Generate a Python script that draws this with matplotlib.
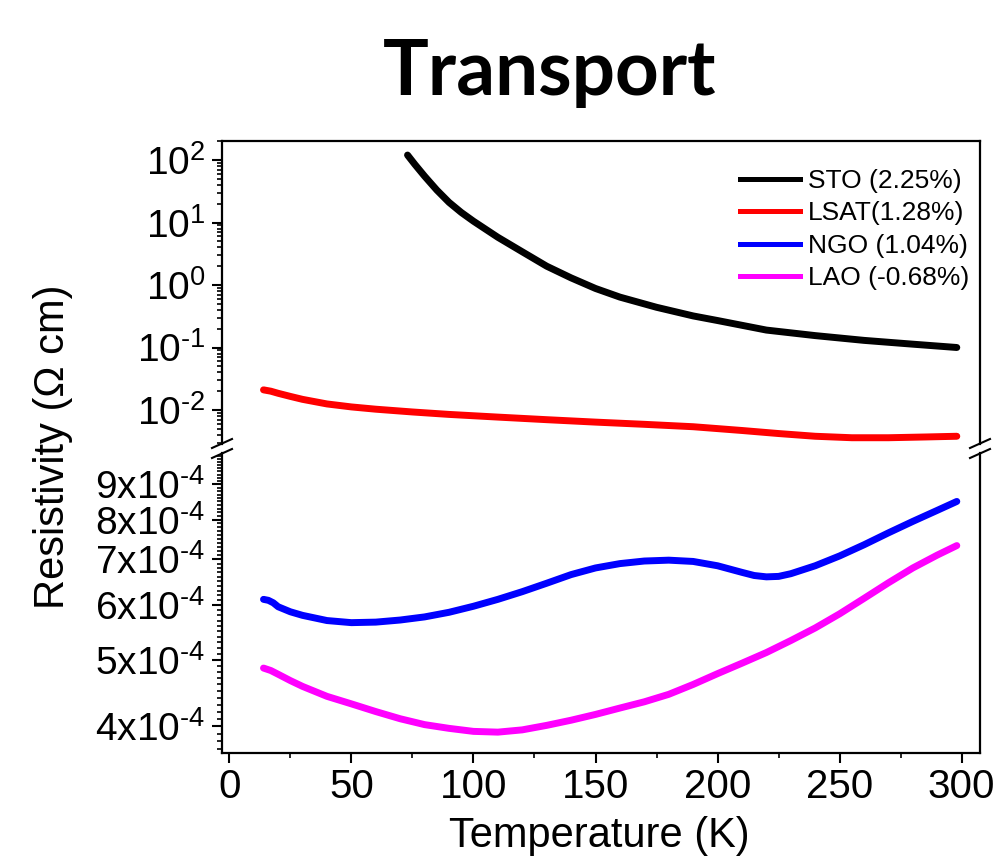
import numpy as np
import matplotlib
matplotlib.use('Agg')
import matplotlib.pyplot as plt
from matplotlib.lines import Line2D
from matplotlib.ticker import FixedLocator, FixedFormatter, LogLocator, NullFormatter, MultipleLocator

plt.rcParams['font.family'] = ['Liberation Sans', 'DejaVu Sans']
plt.rcParams['mathtext.fontset'] = 'custom'
plt.rcParams['mathtext.rm'] = 'Liberation Sans'
plt.rcParams['mathtext.it'] = 'Liberation Sans:italic'
plt.rcParams['mathtext.bf'] = 'Liberation Sans:bold'

# ---------------- data ----------------
sto_T = [73, 76, 80, 85, 90, 95, 100, 110, 120, 130, 140, 150, 160, 175, 190, 200,
         220, 240, 260, 280, 298]
sto_R = [120, 85, 55, 33, 21, 14.5, 10.5, 5.8, 3.4, 2.0, 1.3, 0.88, 0.64, 0.44, 0.32,
         0.27, 0.19, 0.155, 0.13, 0.113, 0.10]

lsat_T = [14, 17, 20, 25, 30, 40, 50, 60, 75, 90, 110, 130, 150, 170, 190, 210, 225,
          240, 255, 270, 285, 298]
lsat_R = [0.021, 0.020, 0.0185, 0.0165, 0.0148, 0.0125, 0.0112, 0.0103, 0.0093, 0.0085,
          0.0077, 0.0070, 0.0064, 0.0059, 0.0054, 0.0047, 0.0042, 0.0038, 0.0036, 0.0036,
          0.0037, 0.0038]

ngo_T = [14, 16, 18, 20, 25, 30, 40, 50, 60, 70, 80, 90, 100, 110, 120, 130, 140, 150,
         160, 170, 180, 190, 200, 210, 215, 220, 225, 230, 240, 250, 260, 270, 280, 290, 298]
ngo_R = [6.12e-4, 6.10e-4, 6.05e-4, 5.97e-4, 5.87e-4, 5.80e-4, 5.70e-4, 5.66e-4, 5.67e-4,
         5.71e-4, 5.77e-4, 5.86e-4, 5.98e-4, 6.12e-4, 6.28e-4, 6.46e-4, 6.65e-4, 6.80e-4,
         6.90e-4, 6.96e-4, 6.98e-4, 6.95e-4, 6.85e-4, 6.70e-4, 6.63e-4, 6.60e-4, 6.61e-4,
         6.67e-4, 6.85e-4, 7.08e-4, 7.35e-4, 7.65e-4, 7.95e-4, 8.25e-4, 8.50e-4]

lao_T = [14, 17, 20, 25, 30, 40, 50, 60, 70, 80, 90, 100, 110, 120, 130, 140, 150, 160,
         170, 180, 190, 200, 210, 220, 230, 240, 250, 260, 270, 280, 290, 298]
lao_R = [4.86e-4, 4.82e-4, 4.76e-4, 4.66e-4, 4.57e-4, 4.42e-4, 4.31e-4, 4.20e-4, 4.10e-4,
         4.02e-4, 3.97e-4, 3.93e-4, 3.92e-4, 3.95e-4, 4.01e-4, 4.08e-4, 4.16e-4, 4.25e-4,
         4.34e-4, 4.45e-4, 4.60e-4, 4.77e-4, 4.94e-4, 5.12e-4, 5.33e-4, 5.56e-4, 5.83e-4,
         6.14e-4, 6.47e-4, 6.80e-4, 7.10e-4, 7.33e-4]

labels = ['STO (2.25%)', 'LSAT(1.28%)', 'NGO (1.04%)', 'LAO (-0.68%)']
colors = ['black', 'red', 'blue', 'magenta']

top_major = [1e-2, 1e-1, 1e0, 1e1, 1e2]
top_major_labels = [r'$10^{\text{-}2}$', r'$10^{\text{-}1}$', r'$10^{0}$', r'$10^{1}$', r'$10^{2}$']
bot_major = [4e-4, 5e-4, 6e-4, 7e-4, 8e-4, 9e-4]
bot_major_labels = [r'$%d\mathrm{x}10^{\text{-}4}$' % k for k in range(4, 10)]

# ---------------- layout ----------------
W, H = 994, 857
fig = plt.figure(figsize=(W / 100, H / 100), dpi=100)
L, R = 222, 980
top_t, top_b = 141, 444
bot_t, bot_b = 453, 753


def rect(t, b):
    return [L / W, 1 - b / H, (R - L) / W, (b - t) / H]


ax1 = fig.add_axes(rect(top_t, top_b))
ax2 = fig.add_axes(rect(bot_t, bot_b))

lw = 5
ax1.plot(sto_T, sto_R, color=colors[0], lw=lw, solid_capstyle='round', solid_joinstyle='round')
ax1.plot(lsat_T, lsat_R, color=colors[1], lw=lw, solid_capstyle='round', solid_joinstyle='round')
ax2.plot(ngo_T, ngo_R, color=colors[2], lw=lw, solid_capstyle='round', solid_joinstyle='round')
ax2.plot(lao_T, lao_R, color=colors[3], lw=lw, solid_capstyle='round', solid_joinstyle='round')

for ax in (ax1, ax2):
    ax.set_yscale('log')
    ax.set_xlim(-3, 307.5)
    for s in ax.spines.values():
        s.set_linewidth(1.6)
    ax.tick_params(which='major', direction='out', length=7, width=1.5)
    ax.tick_params(which='minor', direction='out', length=3.6, width=1.2)
    ax.tick_params(axis='y', which='both', right=False, labelsize=28, pad=5)
    ax.tick_params(axis='x', which='both', top=False)

ax1.set_ylim(10 ** -2.544, 10 ** 2.304)
ax2.set_ylim(3.655e-4, 1.0e-3)

ax1.spines['bottom'].set_visible(False)
ax2.spines['top'].set_visible(False)
ax1.tick_params(axis='x', which='both', bottom=False, labelbottom=False)

ax1.yaxis.set_major_locator(FixedLocator(top_major))
ax1.yaxis.set_major_formatter(FixedFormatter(top_major_labels))
ax1.yaxis.set_minor_locator(LogLocator(base=10, subs=np.arange(2, 10), numticks=20))
ax1.yaxis.set_minor_formatter(NullFormatter())

ax2.yaxis.set_major_locator(FixedLocator(bot_major))
ax2.yaxis.set_major_formatter(FixedFormatter(bot_major_labels))
ax2.yaxis.set_minor_locator(FixedLocator(np.arange(37, 100) * 1e-5))
ax2.yaxis.set_minor_formatter(NullFormatter())

ax2.xaxis.set_major_locator(MultipleLocator(50))
ax2.xaxis.set_minor_locator(MultipleLocator(25))
ax2.tick_params(axis='x', labelsize=29, pad=4)

# break marks
def px(x, y):
    return (x / W, 1 - y / H)

for xc in (L, R):
    for yc in (443.5, 453.5):
        x0, y0 = px(xc - 10, yc + 4.5)
        x1, y1 = px(xc + 10, yc - 4.5)
        fig.add_artist(Line2D([x0, x1], [y0, y1], transform=fig.transFigure,
                              color='black', lw=1.5, clip_on=False))

# legend
handles = [Line2D([], [], color=c, lw=3.6) for c in colors]
fig.legend(handles, labels, loc='upper left', bbox_to_anchor=px(740, 169),
           bbox_transform=fig.transFigure, frameon=False, fontsize=19,
           handlelength=2.27, handletextpad=0.3, labelspacing=0.32,
           borderpad=0, borderaxespad=0)

# labels and title
fig.text(53 / W, 1 - 447 / H, 'Resistivity (\u03a9 cm)', rotation=90,
         ha='center', va='center', fontsize=30)
fig.text(599 / W, 1 - 847 / H, 'Temperature (K)', ha='center', va='baseline', fontsize=30)
fig.text(550 / W, 1 - 95 / H, 'Transport', ha='center', va='baseline',
         fontsize=55, fontweight='bold', family=['Lato', 'DejaVu Sans'])

fig.savefig('out.png', dpi=100)
